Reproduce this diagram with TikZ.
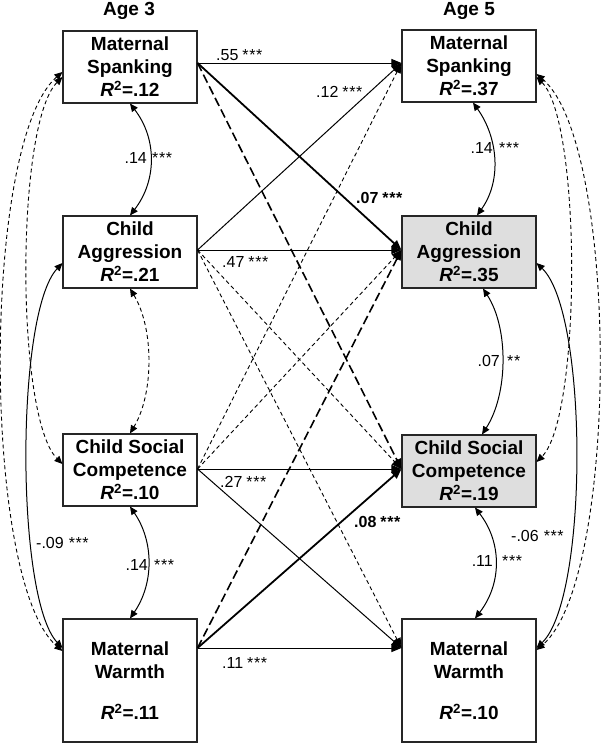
\documentclass[tikz,border=0pt]{standalone}
\usepackage{fontspec}
\setmainfont{Liberation Sans}
\usetikzlibrary{arrows.meta}
\newcommand{\threestar}{*\kern0.6pt*\kern0.6pt*}
\newcommand{\twostar}{*\kern0.6pt*}
\newcommand{\rsq}[1]{\textit{R}\textsuperscript{2}=#1}
\begin{document}
\begin{tikzpicture}[x=1pt,y=-1pt,
  box/.style={draw=black!85,line width=1.1pt,minimum width=134pt,minimum height=72pt,inner sep=0pt,align=center,font=\fontsize{19}{23}\selectfont\bfseries},
  gbox/.style={box,fill=black!13},
  tallbox/.style={minimum height=123pt},
  lbl/.style={inner sep=0pt,font=\fontsize{16}{18}\selectfont},
  blbl/.style={inner sep=0pt,font=\fontsize{16}{18}\selectfont\bfseries},
  ttl/.style={inner sep=0pt,font=\fontsize{19}{23}\selectfont\bfseries},
  solidarr/.style={-{Triangle[length=10pt,width=8pt]},line width=1pt},
  thickarr/.style={solidarr,line width=1.8pt},
  longdash/.style={solidarr,line width=1.6pt,dash pattern=on 9pt off 4pt},
  shortdash/.style={solidarr,line width=0.9pt,dash pattern=on 4pt off 3pt},
  corr/.style={{Triangle[length=8pt,width=7pt]}-{Triangle[length=8pt,width=7pt]},line width=1pt},
  corrd/.style={corr,line width=0.9pt,dash pattern=on 4pt off 3pt}
]
\useasboundingbox (0,0) rectangle (600,744);

% titles
\node[ttl,anchor=base] (age3) at (129,15) {Age 3};
\node[ttl,anchor=base] (age5) at (469,15) {Age 5};

% boxes age 3
\node[box] (ms3) at (130,67) {Maternal\\Spanking\\\rsq{.12}};
\node[box] (ca3) at (130,252) {Child\\Aggression\\\rsq{.21}};
\node[box] (csc3) at (130,470) {Child Social\\Competence\\\rsq{.10}};
\node[box,tallbox] (mw3) at (130,680.5) {Maternal\\Warmth\\[18pt]\rsq{.11}};
% boxes age 5
\node[box] (ms5) at (469,66) {Maternal\\Spanking\\\rsq{.37}};
\node[gbox] (ca5) at (469,252) {Child\\Aggression\\\rsq{.35}};
\node[gbox] (csc5) at (469,471) {Child Social\\Competence\\\rsq{.19}};
\node[box,tallbox] (mw5) at (469,680.5) {Maternal\\Warmth\\[18pt]\rsq{.10}};

% connection points
\coordinate (o-ms) at (ms3.east |- 0,63);
\coordinate (o-ca) at (ca3.east |- 0,250);
\coordinate (o-csc) at (csc3.east |- 0,469);
\coordinate (o-mw) at (mw3.east |- 0,648);
\coordinate (i-ms) at (ms5.west |- 0,63);
\coordinate (i-ca) at (ca5.west |- 0,250);
\coordinate (i-csc) at (csc5.west |- 0,469);
\coordinate (i-mw) at (mw5.west |- 0,648);

% cross-lagged paths
\draw[solidarr] (o-ms) -- (i-ms);
\draw[thickarr] (o-ms) -- (i-ca);
\draw[longdash] (o-ms) -- (i-csc);
\draw[solidarr] (o-ca) -- (i-ms);
\draw[solidarr] (o-ca) -- (i-ca);
\draw[shortdash] (o-ca) -- (i-csc);
\draw[shortdash] (o-ca) -- (i-mw);
\draw[shortdash] (o-csc) -- (i-ms);
\draw[shortdash] (o-csc) -- (i-ca);
\draw[solidarr] (o-csc) -- (i-csc);
\draw[solidarr] (o-csc) -- (i-mw);
\draw[longdash] (o-mw) -- (i-ca);
\draw[thickarr] (o-mw) -- (i-csc);
\draw[solidarr] (o-mw) -- (i-mw);

% path labels
\node[lbl,anchor=base west] (l55) at (216,60) {.55\hspace{4pt}\threestar};
\node[lbl,anchor=base west] (l12) at (316,97) {.12\hspace{4pt}\threestar};
\node[blbl,anchor=base west] (l07) at (356,203) {.07\hspace{4pt}\threestar};
\node[lbl,anchor=base west] (l47) at (222,267) {.47\hspace{4pt}\threestar};
\node[lbl,anchor=base west] (l27) at (220,487) {.27\hspace{4pt}\threestar};
\node[blbl,anchor=base west] (l08) at (354,527) {.08\hspace{4pt}\threestar};
\node[lbl,anchor=base west] (l11) at (222,668) {.11\hspace{4pt}\threestar};

% left inner correlations
\draw[corr] (ms3.south) .. controls +(27,35) and +(27,-35) .. (ca3.north);
\draw[corrd] (ca3.south) .. controls +(24,40) and +(24,-40) .. (csc3.north);
\draw[corr] (csc3.south) .. controls +(24,35) and +(24,-35) .. (mw3.north);
% left outer correlations
\coordinate (lms-a) at (ms3.west |- 0,77);
\coordinate (lcsc) at (csc3.west |- 0,464);
\coordinate (lca) at (ca3.west |- 0,263);
\coordinate (lmw-a) at (mw3.west |- 0,648);
\coordinate (lms-b) at (ms3.west |- 0,72);
\coordinate (lmw-b) at (mw3.west |- 0,651);
\draw[corrd] (lms-a) .. controls +(-47,47) and +(-47,-47) .. (lcsc);
\draw[corr] (lca) .. controls +(-47,50) and +(-47,-50) .. (lmw-a);
\draw[corrd] (lms-b) .. controls +(-81,70) and +(-81,-70) .. (lmw-b);

% right inner correlations
\coordinate (rms-s) at ([xshift=4pt]ms5.south);
\coordinate (rca-n) at ([xshift=8pt]ca5.north);
\coordinate (rca-s) at ([xshift=14pt]ca5.south);
\coordinate (rcsc-n) at ([xshift=13pt]csc5.north);
\coordinate (rcsc-s) at ([xshift=6pt]csc5.south);
\coordinate (rmw-n) at ([xshift=6pt]mw5.north);
\draw[corr] (rms-s) .. controls +(25,35) and +(25,-35) .. (rca-n);
\draw[corr] (rca-s) .. controls +(26,40) and +(26,-40) .. (rcsc-n);
\draw[corr] (rcsc-s) .. controls +(27,35) and +(27,-35) .. (rmw-n);
% right outer correlations
\coordinate (rms-a) at (ms5.east |- 0,77);
\coordinate (rcsc) at (csc5.east |- 0,462);
\coordinate (rca) at (ca5.east |- 0,263);
\coordinate (rmw-a) at (mw5.east |- 0,648);
\coordinate (rms-b) at (ms5.east |- 0,74);
\coordinate (rmw-b) at (mw5.east |- 0,650);
\draw[corrd] (rms-a) .. controls +(45,45) and +(45,-45) .. (rcsc);
\draw[corr] (rca) .. controls +(52,50) and +(52,-50) .. (rmw-a);
\draw[corrd] (rms-b) .. controls +(83,70) and +(83,-70) .. (rmw-b);

% correlation labels
\node[lbl,anchor=base east] (a1n) at (147,163) {.14};
\node[lbl,anchor=base west] (a1s) at (152,163) {\threestar};
\node[lbl,anchor=base east] (a2n) at (148,570) {.14};
\node[lbl,anchor=base west] (a2s) at (154,570) {\threestar};
\node[lbl,anchor=base west] (a3) at (36,548) {-.09\hspace{5pt}\threestar};
\node[lbl,anchor=base east] (b1n) at (493,153) {.14};
\node[lbl,anchor=base west] (b1s) at (499,153) {\threestar};
\node[lbl,anchor=base east] (b2n) at (500,366) {.07};
\node[lbl,anchor=base west] (b2s) at (507,366) {\twostar};
\node[lbl,anchor=base east] (b3n) at (493,566) {.11};
\node[lbl,anchor=base west] (b3s) at (502,566) {\threestar};
\node[lbl,anchor=base west] (b4) at (511,541) {-.06\hspace{5pt}\threestar};
\end{tikzpicture}
\end{document}
